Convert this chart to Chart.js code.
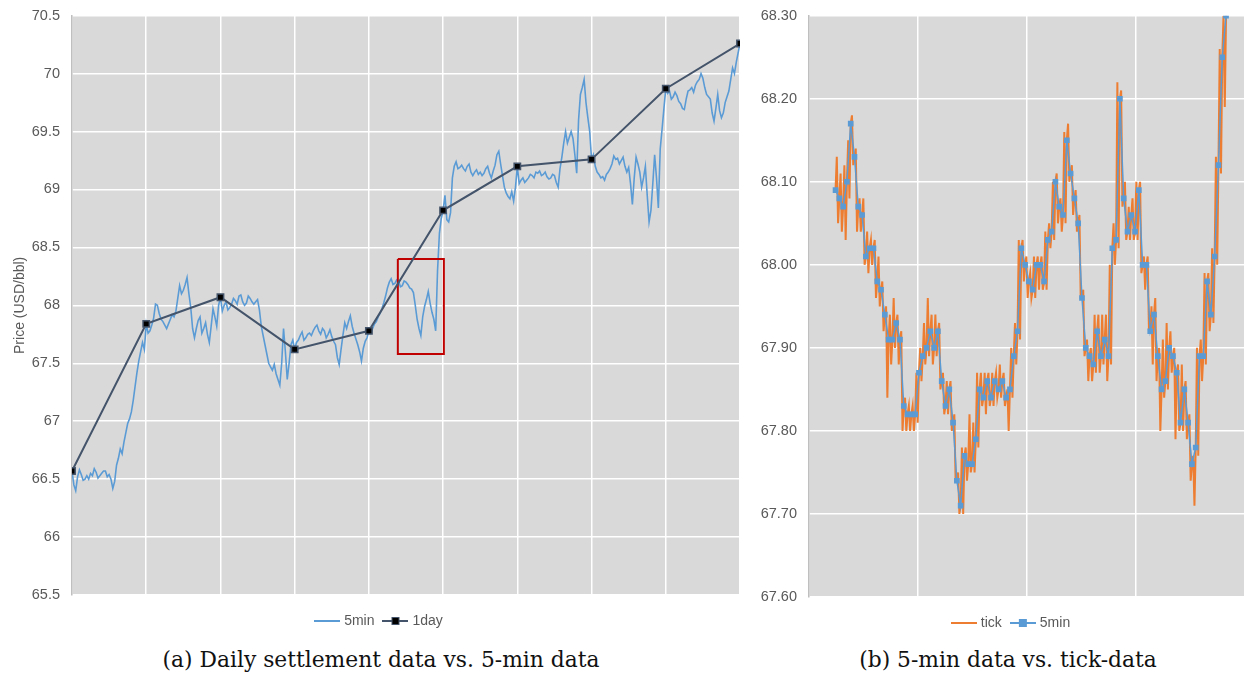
<!DOCTYPE html>
<html>
<head>
<meta charset="utf-8">
<script src="https://cdn.jsdelivr.net/npm/chart.js@4/dist/chart.umd.min.js"></script>
<style>
  body { margin: 0; background: #fff; width: 1249px; height: 679px; position: relative; overflow: hidden; }
  #wrapA { position: absolute; left: 0; top: -5px; }
  #wrapB { position: absolute; left: 750px; top: -5px; }
  .caption { position: absolute; top: 647px; font-family: "DejaVu Serif", serif; font-size: 21.8px; color: #111;
             white-space: nowrap; transform: translateX(-50%); }
</style>
</head>
<body>
<div id="wrapA"><canvas id="chartA" width="750" height="646"></canvas></div>
<div id="wrapB"><canvas id="chartB" width="499" height="647"></canvas></div>
<div class="caption" style="left:381px">(a) Daily settlement data vs. 5-min data</div>
<div class="caption" style="left:1008px">(b) 5-min data vs. tick-data</div>
<script>
// ---- panel (a): daily settlement vs 5-min ----
const dayIndex = [0, 1, 2, 3, 4, 5, 6, 7, 8, 9];
const dailyPrice = [66.57, 67.84, 68.07, 67.62, 67.78, 68.82, 69.20, 69.26, 69.87, 70.26];
const min5PerDay = 40;
const min5Price = [
  // day 1
  66.57, 66.45, 66.40, 66.52, 66.58, 66.54, 66.49, 66.50, 66.53, 66.50, 66.55, 66.53, 66.59, 66.56, 66.51, 66.53, 66.55, 66.57, 66.57, 66.52,
  66.54, 66.50, 66.42, 66.48, 66.62, 66.68, 66.76, 66.72, 66.82, 66.90, 66.98, 67.02, 67.08, 67.18, 67.30, 67.42, 67.52, 67.60, 67.68, 67.62,
  // day 2
  67.84, 67.76, 67.78, 67.83, 67.89, 68.01, 68.00, 67.93, 67.88, 67.86, 67.83, 67.80, 67.84, 67.88, 67.92, 67.90, 67.95, 68.06, 68.17, 68.10,
  68.13, 68.18, 68.24, 68.10, 67.98, 67.80, 67.72, 67.80, 67.87, 67.90, 67.76, 67.80, 67.85, 67.75, 67.68, 67.82, 67.97, 67.90, 67.82, 68.00,
  // day 3
  68.07, 67.95, 68.00, 68.03, 67.96, 67.98, 68.01, 68.06, 68.04, 68.01, 68.08, 68.09, 68.03, 68.00, 68.02, 68.08, 68.06, 68.03, 68.01, 68.03,
  68.05, 67.96, 67.82, 67.74, 67.66, 67.58, 67.50, 67.47, 67.44, 67.49, 67.41, 67.36, 67.31, 67.50, 67.80, 67.60, 67.36, 67.50, 67.66, 67.70,
  // day 4
  67.62, 67.68, 67.70, 67.74, 67.77, 67.70, 67.72, 67.75, 67.76, 67.74, 67.78, 67.81, 67.83, 67.78, 67.75, 67.80, 67.78, 67.72, 67.75, 67.79,
  67.73, 67.69, 67.66, 67.55, 67.49, 67.62, 67.74, 67.85, 67.80, 67.86, 67.91, 67.82, 67.76, 67.71, 67.66, 67.60, 67.52, 67.63, 67.69, 67.72,
  // day 5
  67.78, 67.76, 67.80, 67.84, 67.86, 67.90, 67.93, 67.97, 68.02, 68.08, 68.15, 68.20, 68.23, 68.18, 68.19, 68.22, 68.21, 68.16, 68.17, 68.21,
  68.20, 68.18, 68.15, 68.14, 68.11, 68.00, 67.88, 67.80, 67.74, 67.90, 67.99, 68.05, 68.12, 68.02, 67.94, 67.88, 67.78, 68.30, 68.62, 68.75,
  // day 6
  68.82, 68.95, 68.74, 68.72, 68.80, 69.10, 69.20, 69.24, 69.18, 69.19, 69.21, 69.18, 69.16, 69.20, 69.22, 69.15, 69.12, 69.15, 69.17, 69.13,
  69.15, 69.12, 69.14, 69.18, 69.20, 69.14, 69.10, 69.16, 69.21, 69.30, 69.33, 69.22, 69.12, 69.02, 68.97, 68.94, 68.92, 68.98, 68.90, 69.02,
  // day 7
  69.20, 69.05, 69.08, 69.10, 69.06, 69.08, 69.10, 69.13, 69.12, 69.10, 69.15, 69.14, 69.16, 69.12, 69.13, 69.15, 69.11, 69.09, 69.10, 69.13,
  69.12, 69.06, 69.02, 69.18, 69.28, 69.40, 69.50, 69.40, 69.45, 69.50, 69.44, 69.30, 69.14, 69.60, 69.82, 69.88, 69.95, 69.75, 69.62, 69.50,
  // day 8
  69.26, 69.30, 69.20, 69.15, 69.13, 69.10, 69.11, 69.08, 69.13, 69.15, 69.18, 69.22, 69.29, 69.26, 69.27, 69.22, 69.25, 69.28, 69.20, 69.15,
  69.19, 69.05, 68.87, 69.10, 69.28, 69.22, 69.15, 69.02, 69.10, 69.20, 68.95, 68.72, 68.82, 69.05, 69.30, 69.10, 68.84, 69.35, 69.52, 69.70,
  // day 9
  69.87, 69.83, 69.85, 69.78, 69.80, 69.84, 69.81, 69.76, 69.74, 69.70, 69.69, 69.78, 69.85, 69.86, 69.88, 69.84, 69.90, 69.93, 69.95, 70.00,
  69.96, 69.88, 69.82, 69.80, 69.78, 69.66, 69.59, 69.70, 69.82, 69.68, 69.62, 69.66, 69.75, 69.80, 69.85, 69.95, 70.05, 70.00, 70.10, 70.18,
  70.26
];
// zoomed window (red box) in day / price units
const zoomBoxX = [4.39, 5.01, 5.01, 4.39, 4.39];
const zoomBoxY = [68.40, 68.40, 67.58, 67.58, 68.40];

// ---- panel (b): 5-min vs tick ----
const barOffset = 7;
const ticksPerBar = 3;
const barPrice = [
  68.09, 68.08, 68.07, 68.10, 68.17, 68.13, 68.07, 68.06, 68.01, 68.02,
  68.02, 67.98, 67.97, 67.94, 67.91, 67.91, 67.93, 67.91, 67.83, 67.82,
  67.82, 67.82, 67.87, 67.89, 67.90, 67.92, 67.90, 67.92, 67.86, 67.83,
  67.85, 67.81, 67.74, 67.71, 67.77, 67.76, 67.76, 67.79, 67.85, 67.84,
  67.86, 67.84, 67.86, 67.85, 67.86, 67.84, 67.85, 67.89, 67.92, 68.02,
  68.00, 67.98, 67.97, 68.00, 68.00, 67.98, 68.03, 68.04, 68.10, 68.07,
  68.06, 68.15, 68.11, 68.08, 68.05, 67.96, 67.90, 67.89, 67.88, 67.92,
  67.89, 67.91, 67.89, 68.02, 68.03, 68.20, 68.08, 68.04, 68.06, 68.04,
  68.09, 68.00, 68.00, 67.92, 67.94, 67.89, 67.85, 67.86, 67.90, 67.89,
  67.87, 67.81, 67.85, 67.81, 67.76, 67.78, 67.89, 67.89, 67.98, 67.94,
  68.01, 68.12, 68.25, 68.30
];
const tickPrice = [
  68.09,68.13,68.05, 68.08,68.11,68.04, 68.07,68.12,68.03, 68.10,68.15,68.08, 68.17,68.18,68.12, 68.13,68.14,68.04, 68.07,68.08,68.04, 68.06,68.08,68.00, 68.01,68.04,67.99, 68.02,68.03,68.00,
  68.02,68.03,67.96, 67.98,68.01,67.95, 67.97,67.98,67.92, 67.94,67.95,67.84, 67.91,67.94,67.88, 67.91,67.96,67.90, 67.93,67.94,67.88, 67.91,67.92,67.80, 67.83,67.84,67.80, 67.82,67.83,67.80,
  67.82,67.83,67.80, 67.82,67.87,67.81, 67.87,67.90,67.86, 67.89,67.93,67.88, 67.90,67.96,67.89, 67.92,67.94,67.88, 67.90,67.94,67.89, 67.92,67.93,67.85, 67.86,67.87,67.82, 67.83,67.86,67.82,
  67.85,67.86,67.80, 67.81,67.82,67.74, 67.74,67.75,67.70, 67.71,67.78,67.70, 67.77,67.78,67.74, 67.76,67.82,67.75, 67.76,67.81,67.75, 67.79,67.87,67.78, 67.85,67.87,67.83, 67.84,67.87,67.82,
  67.86,67.87,67.83, 67.84,67.87,67.83, 67.86,67.87,67.84, 67.85,67.88,67.84, 67.86,67.87,67.83, 67.84,67.85,67.80, 67.85,67.90,67.84, 67.89,67.93,67.88, 67.92,68.03,67.91, 68.02,68.03,67.98,
  68.00,68.01,67.96, 67.98,67.99,67.96, 67.97,68.01,67.96, 68.00,68.01,67.97, 68.00,68.01,67.97, 67.98,68.04,67.97, 68.03,68.05,68.02, 68.04,68.10,68.03, 68.10,68.11,68.05, 68.07,68.08,68.04,
  68.06,68.16,68.05, 68.15,68.17,68.10, 68.11,68.12,68.06, 68.08,68.09,68.04, 68.05,68.06,67.96, 67.96,67.97,67.89, 67.90,67.91,67.86, 67.89,67.90,67.86, 67.88,67.94,67.87, 67.92,67.94,67.87,
  67.89,67.94,67.88, 67.91,67.94,67.86, 67.89,68.00,67.88, 68.02,68.05,68.00, 68.03,68.22,68.02, 68.20,68.21,68.07, 68.08,68.10,68.03, 68.04,68.07,68.03, 68.06,68.08,68.03, 68.04,68.10,68.03,
  68.09,68.10,67.99, 68.00,68.01,67.97, 68.00,68.01,67.92, 67.92,67.95,67.88, 67.94,67.96,67.86, 67.89,67.90,67.80, 67.85,67.91,67.84, 67.86,67.93,67.85, 67.90,67.92,67.87, 67.89,67.90,67.79,
  67.87,67.88,67.80, 67.81,67.88,67.80, 67.85,67.86,67.79, 67.81,67.82,67.74, 67.76,67.77,67.71, 67.78,67.90,67.77, 67.89,67.91,67.86, 67.89,67.99,67.88, 67.98,67.99,67.92, 67.94,68.02,67.93,
  68.01,68.13,68.00, 68.12,68.26,68.11, 68.25,68.30,68.19, 68.30
];
const gridTicksB = [0, 28.75, 57.5, 86.25, 115];

const BLUE = '#5b9bd5', ORANGE = '#ed7d31', SLATE = '#44546a', TEXT = '#595959';
Chart.defaults.font.family = '"Liberation Sans", Arial, sans-serif';
Chart.defaults.color = TEXT;
Chart.defaults.animation = false;

const plotBackground = {
  id: 'plotBackground',
  beforeDraw(chart) {
    const { ctx, chartArea: a } = chart;
    ctx.save();
    ctx.fillStyle = '#d9d9d9';
    ctx.fillRect(a.left, a.top, a.width, a.height);
    ctx.restore();
  }
};

// move the centred legend a little, like the original layout
function legendShift(dx, dy) {
  return {
    id: 'legendShift',
    afterLayout(chart) {
      const lg = chart.legend;
      if (!lg) return;
      lg.left += dx; lg.right += dx;
      lg.top += dy; lg.bottom += dy;
    }
  };
}

function legendIcon(color, markerFill, markerBorder) {
  const c = document.createElement('canvas');
  c.width = 26; c.height = 10;
  const g = c.getContext('2d');
  g.strokeStyle = color; g.lineWidth = 2;
  g.beginPath(); g.moveTo(0, 5); g.lineTo(26, 5); g.stroke();
  if (markerFill) {
    g.fillStyle = markerFill; g.fillRect(9, 1, 8, 8);
    if (markerBorder) { g.strokeStyle = markerBorder; g.lineWidth = 1; g.strokeRect(9.5, 1.5, 7, 7); }
  }
  return c;
}

function legendItem(text, icon, index) {
  return { text, pointStyle: icon, fontColor: TEXT, fillStyle: 'transparent', strokeStyle: 'transparent',
           lineWidth: 0, hidden: false, datasetIndex: index };
}

function legendOptions(items) {
  return {
    position: 'bottom',
    labels: {
      usePointStyle: true, pointStyleWidth: 20, padding: 11,
      font: { size: 14 }, color: TEXT,
      generateLabels: () => items
    }
  };
}

const gridStyle = { color: '#ffffff', lineWidth: 1.5, drawTicks: false };

new Chart(document.getElementById('chartA'), {
  type: 'line',
  data: {
    datasets: [
      {
        label: '5min',
        data: min5Price.map((p, i) => ({ x: i / min5PerDay, y: p })),
        borderColor: BLUE, borderWidth: 1.6, pointRadius: 0, order: 3
      },
      {
        label: 'zoom',
        data: zoomBoxX.map((x, i) => ({ x, y: zoomBoxY[i] })),
        borderColor: '#c00000', borderWidth: 2, pointRadius: 0, order: 2
      },
      {
        label: '1day',
        data: dayIndex.map((d, i) => ({ x: d, y: dailyPrice[i] })),
        borderColor: SLATE, borderWidth: 2,
        pointStyle: 'rect', pointRadius: 4.5, pointBackgroundColor: '#000', pointBorderColor: SLATE, pointBorderWidth: 1.5,
        order: 1
      }
    ]
  },
  options: {
    responsive: false,
    devicePixelRatio: 1,
    layout: { padding: { left: 8, right: 10, top: 10, bottom: 11 } },
    plugins: {
      legend: legendOptions([legendItem('5min', legendIcon(BLUE), 0), legendItem('1day', legendIcon(SLATE, '#000', SLATE), 2)]),
      tooltip: { enabled: false }
    },
    scales: {
      x: {
        type: 'linear', min: 0, max: 9,
        ticks: { stepSize: 1, display: false },
        grid: gridStyle, border: { display: false }
      },
      y: {
        min: 65.5, max: 70.5,
        ticks: { stepSize: 0.5, padding: 12, font: { size: 14.5 }, color: TEXT, callback: v => String(Number(Number(v).toFixed(1))) },
        grid: gridStyle, border: { color: '#bfbfbf', width: 1.5 },
        title: { display: true, text: 'Price (USD/bbl)', font: { size: 14 }, color: TEXT, padding: { top: 4, bottom: 4 } },
        afterFit(scale) { scale.width = 64; }
      }
    }
  },
  plugins: [plotBackground, legendShift(6, 8)]
});

new Chart(document.getElementById('chartB'), {
  type: 'line',
  data: {
    datasets: [
      {
        label: 'tick',
        data: tickPrice.map((p, j) => ({ x: barOffset + j / ticksPerBar, y: p })),
        borderColor: ORANGE, borderWidth: 2, pointRadius: 0, order: 2
      },
      {
        label: '5min',
        data: barPrice.map((p, i) => ({ x: barOffset + i, y: p })),
        borderColor: BLUE, borderWidth: 1.5,
        pointStyle: 'rect', pointRadius: 4, pointBackgroundColor: BLUE, pointBorderColor: BLUE, pointBorderWidth: 0,
        order: 1
      }
    ]
  },
  options: {
    responsive: false,
    devicePixelRatio: 1,
    layout: { padding: { left: 0, right: 1, top: 10, bottom: 10 } },
    plugins: {
      legend: legendOptions([legendItem('tick', legendIcon(ORANGE), 0), legendItem('5min', legendIcon(BLUE, BLUE), 1)]),
      tooltip: { enabled: false }
    },
    scales: {
      x: {
        type: 'linear', min: 0, max: 115,
        afterBuildTicks(scale) { scale.ticks = gridTicksB.map(v => ({ value: v })); },
        ticks: { display: false },
        grid: gridStyle, border: { display: false }
      },
      y: {
        min: 67.6, max: 68.3,
        ticks: { stepSize: 0.1, padding: 12, font: { size: 14.5 }, color: TEXT, callback: v => Number(v).toFixed(2) },
        grid: gridStyle, border: { color: '#bfbfbf', width: 1.5 },
        afterFit(scale) { scale.width = 59; }
      }
    }
  },
  plugins: [plotBackground, legendShift(13, 8)]
});
</script>
</body>
</html>
